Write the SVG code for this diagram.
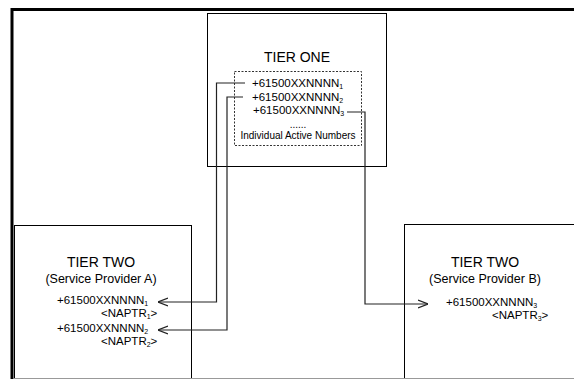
<svg xmlns="http://www.w3.org/2000/svg" width="574" height="379" viewBox="0 0 574 379">
  <style>
    .box { fill: #ffffff; stroke: #000000; stroke-width: 1; }
    .dash { fill: none; stroke: #333333; stroke-width: 1; stroke-dasharray: 2 1.5; }
    .frame { fill: none; stroke: #000000; stroke-width: 3; }
    .wire { fill: none; stroke: #222222; stroke-width: 1.2; }
    .title { font-family: "Liberation Sans", Arial, sans-serif; font-size: 14px; fill: #000; text-anchor: middle; }
    .sub { font-family: "Liberation Sans", Arial, sans-serif; font-size: 12.5px; fill: #000; text-anchor: middle; }
    .num { font-family: "Liberation Sans", Arial, sans-serif; font-size: 11.5px; fill: #000; }
    .small { font-family: "Liberation Sans", Arial, sans-serif; font-size: 10px; fill: #000; text-anchor: middle; }
    .idx { font-size: 7px; }
  </style>
  <defs>
    <marker id="open" viewBox="0 0 10 10" refX="10" refY="5" markerWidth="10" markerHeight="10" markerUnits="userSpaceOnUse" orient="auto">
      <path d="M0,1 L10,5 L0,9" fill="none" stroke="#222" stroke-width="1.2"/>
    </marker>
  </defs>

  <rect width="574" height="379" fill="#ffffff"/>

  <!-- page frame -->
  <path class="frame" d="M12,379 V9.5 H574"/>

  <g id="tier-one">
    <rect class="box" x="207.5" y="13.5" width="179" height="153"/>
    <text class="title" x="297" y="62">TIER ONE</text>
    <rect class="dash" x="234.5" y="71.5" width="127" height="74"/>
    <text class="num" x="252" y="87">+61500XXNNNN<tspan class="idx" dy="2">1</tspan></text>
    <text class="num" x="252" y="101">+61500XXNNNN<tspan class="idx" dy="2">2</tspan></text>
    <text class="num" x="253" y="114">+61500XXNNNN<tspan class="idx" dy="2">3</tspan></text>
    <text class="small" x="298" y="128">......</text>
    <text class="small" x="298" y="139">Individual Active Numbers</text>
  </g>

  <g id="tier-two-a">
    <rect class="box" x="14.5" y="225.5" width="177" height="160"/>
    <text class="title" x="101" y="267">TIER TWO</text>
    <text class="sub" x="101" y="283">(Service Provider A)</text>
    <text class="num" x="57" y="304">+61500XXNNNN<tspan class="idx" dy="2">1</tspan></text>
    <text class="num" x="101" y="317">&lt;NAPTR<tspan class="idx" dy="2">1</tspan><tspan dy="-2">&gt;</tspan></text>
    <text class="num" x="57" y="332">+61500XXNNNN<tspan class="idx" dy="2">2</tspan></text>
    <text class="num" x="101" y="345">&lt;NAPTR<tspan class="idx" dy="2">2</tspan><tspan dy="-2">&gt;</tspan></text>
  </g>

  <g id="tier-two-b">
    <rect class="box" x="404.5" y="224.5" width="180" height="160"/>
    <text class="title" x="485" y="267">TIER TWO</text>
    <text class="sub" x="485" y="283">(Service Provider B)</text>
    <text class="num" x="446" y="306">+61500XXNNNN<tspan class="idx" dy="2">3</tspan></text>
    <text class="num" x="492" y="319">&lt;NAPTR<tspan class="idx" dy="2">3</tspan><tspan dy="-2">&gt;</tspan></text>
  </g>

  <g id="connectors">
    <path class="wire" d="M245,83 H216.5 V302 H158" marker-end="url(#open)"/>
    <path class="wire" d="M243,97 H227 V330 H158" marker-end="url(#open)"/>
    <path class="wire" d="M347,112 H365 V304 H428" marker-end="url(#open)"/>
  </g>

  <!-- lower page edge -->
  <line x1="14" y1="378.5" x2="574" y2="378.5" stroke="#999" stroke-width="1"/>
</svg>
